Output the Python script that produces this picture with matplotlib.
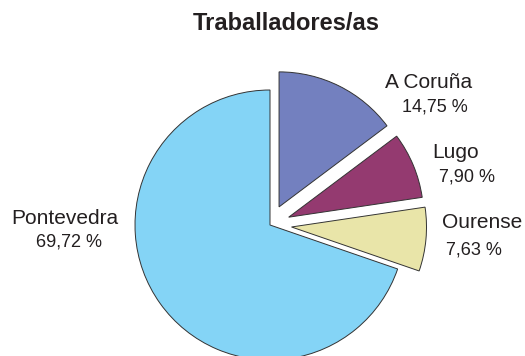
import matplotlib
matplotlib.use("Agg")
import matplotlib.pyplot as plt

provinces = ["A Coruña", "Lugo", "Ourense", "Pontevedra"]
shares = [14.75, 7.90, 7.63, 69.72]
colors = ["#7380BF", "#943A70", "#E9E5A9", "#84D4F6"]
explode = [0.15, 0.15, 0.16, 0.0]

W, H = 525, 356
R = 135.0          # pie radius in pixels
CX, CY = 270, 225  # pie centre in pixels (from top-left)

plt.rcParams["font.family"] = ["Liberation Sans", "DejaVu Sans"]
txt = "#231F20"

fig = plt.figure(figsize=(W / 100, H / 100), dpi=100)
ax = fig.add_axes([0, 0, 1, 1])
ax.pie(shares, colors=colors, explode=explode, startangle=90, counterclock=False,
       radius=1.0, wedgeprops=dict(edgecolor="#333333", linewidth=0.7))
ax.set_xlim(-CX / R, (W - CX) / R)
ax.set_ylim((CY - H) / R, CY / R)
ax.set_aspect("auto")
ax.axis("off")

def put(x, y, s, **kw):
    fig.text(x / W, 1 - y / H, s, ha="center", va="center", color=txt, **kw)

put(286, 24, "Traballadores/as", fontsize=17, fontweight="bold")

# label positions (pixels) for name and percentage lines
label_pos = {
    "A Coruña": ((429, 82), (435, 107)),
    "Lugo": ((456, 153), (467, 177)),
    "Ourense": ((482, 222), (474, 250)),
    "Pontevedra": ((65, 218), (69, 242)),
}
for name, val in zip(provinces, shares):
    (nx, ny), (vx, vy) = label_pos[name]
    put(nx, ny, name, fontsize=15)
    put(vx, vy, f"{val:.2f} %".replace(".", ","), fontsize=13)

fig.savefig("out.png", dpi=100)
